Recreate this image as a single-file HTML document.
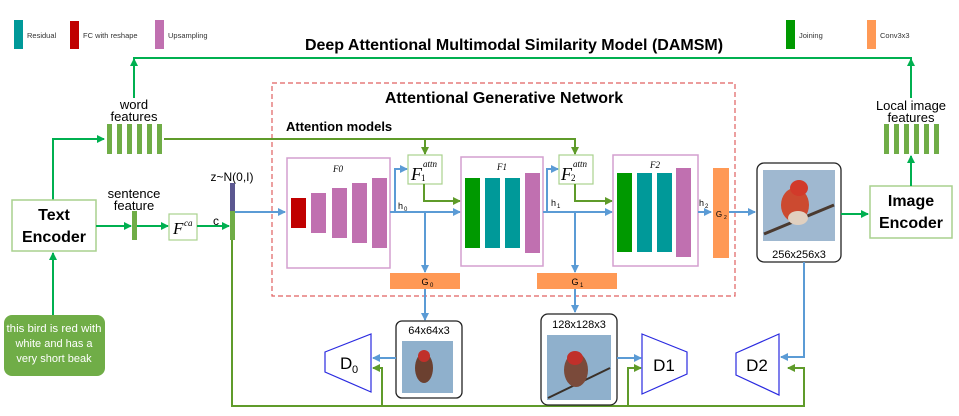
<!DOCTYPE html>
<html><head><meta charset="utf-8"><style>
html,body{margin:0;padding:0;background:#fff;}
svg{display:block;font-family:"Liberation Sans",sans-serif;}
</style></head><body>
<svg width="959" height="416" viewBox="0 0 959 416" xmlns="http://www.w3.org/2000/svg">
<defs>
<marker id="ag" markerWidth="8" markerHeight="8" refX="7" refY="4" orient="auto" markerUnits="userSpaceOnUse"><path d="M0,0 L8,4 L0,8 z" fill="#00b050"/></marker>
<marker id="ao" markerWidth="8" markerHeight="8" refX="7" refY="4" orient="auto" markerUnits="userSpaceOnUse"><path d="M0,0 L8,4 L0,8 z" fill="#5f9b2a"/></marker>
<marker id="ab" markerWidth="8" markerHeight="8" refX="7" refY="4" orient="auto" markerUnits="userSpaceOnUse"><path d="M0,0 L8,4 L0,8 z" fill="#5b9bd5"/></marker>
</defs>

<!-- legend -->
<rect x="14" y="20" width="9" height="29" fill="#009999"/><text x="27" y="38" font-size="7.5" fill="#333">Residual</text>
<rect x="70" y="21" width="9" height="28" fill="#c00000"/><text x="83" y="38" font-size="7.5" fill="#333">FC with reshape</text>
<rect x="155" y="20" width="9" height="29" fill="#c070b0"/><text x="168" y="38" font-size="7.5" fill="#333">Upsampling</text>
<rect x="786" y="20" width="9" height="29" fill="#009900"/><text x="799" y="38" font-size="7.5" fill="#333">Joining</text>
<rect x="867" y="20" width="9" height="29" fill="#ff9955"/><text x="880" y="38" font-size="7.5" fill="#333">Conv3x3</text>

<text x="514" y="50" font-size="16" font-weight="bold" text-anchor="middle">Deep Attentional Multimodal Similarity Model (DAMSM)</text>

<!-- DAMSM top line -->
<polyline points="134,98 134,58 911,58 911,98" fill="none" stroke="#00b050" stroke-width="2"/>
<path d="M130,66 L134,58 L138,66 z" fill="#00b050"/>
<path d="M907,66 L911,58 L915,66 z" fill="#00b050"/>

<!-- dashed box -->
<rect x="272" y="83" width="463" height="213" fill="none" stroke="#e06060" stroke-width="1.2" stroke-dasharray="5,3"/>
<text x="504" y="103" font-size="16" font-weight="bold" text-anchor="middle">Attentional Generative Network</text>
<text x="286" y="131" font-size="13" font-weight="bold">Attention models</text>

<!-- word features -->
<text x="134" y="109" font-size="13" text-anchor="middle">word</text>
<text x="134" y="121" font-size="13" text-anchor="middle">features</text>
<g fill="#70ad47">
<rect x="107" y="124" width="5" height="30"/><rect x="117" y="124" width="5" height="30"/><rect x="127" y="124" width="5" height="30"/><rect x="137" y="124" width="5" height="30"/><rect x="147" y="124" width="5" height="30"/><rect x="157" y="124" width="5" height="30"/>
</g>
<polyline points="53,200 53,139 104,139" fill="none" stroke="#00b050" stroke-width="2" marker-end="url(#ag)"/>
<polyline points="164,139 575,139 575,154" fill="none" stroke="#5f9b2a" stroke-width="2" marker-end="url(#ao)"/>
<line x1="425" y1="139" x2="425" y2="154" stroke="#5f9b2a" stroke-width="2" marker-end="url(#ao)"/>

<!-- text encoder -->
<rect x="12" y="200" width="84" height="51" fill="#fff" stroke="#a9d18e" stroke-width="1.5"/>
<text x="54" y="220" font-size="16" font-weight="bold" text-anchor="middle">Text</text>
<text x="54" y="242" font-size="16" font-weight="bold" text-anchor="middle">Encoder</text>

<text x="134" y="198" font-size="13" text-anchor="middle">sentence</text>
<text x="134" y="210" font-size="13" text-anchor="middle">feature</text>
<rect x="132" y="211" width="5" height="29" fill="#70ad47"/>
<line x1="96" y1="226" x2="131" y2="226" stroke="#00b050" stroke-width="2" marker-end="url(#ag)"/>
<line x1="137" y1="226" x2="168" y2="226" stroke="#00b050" stroke-width="2" marker-end="url(#ag)"/>
<rect x="169" y="214" width="28" height="26" fill="#fff" stroke="#a9d18e" stroke-width="1.2"/>
<text x="173" y="234" font-size="17" font-style="italic" font-family="Liberation Serif,serif">F</text><text x="184" y="226" font-size="9" font-style="italic" font-family="Liberation Serif,serif">ca</text>
<text x="213" y="225" font-size="12">c</text>
<line x1="197" y1="226" x2="229" y2="226" stroke="#00b050" stroke-width="2" marker-end="url(#ag)"/>
<text x="232" y="181" font-size="12" text-anchor="middle">z~N(0,I)</text>
<rect x="230" y="183" width="5" height="28" fill="#5b5790"/>
<rect x="230" y="211" width="5" height="29" fill="#70ad47"/>
<line x1="235" y1="212" x2="285" y2="212" stroke="#5b9bd5" stroke-width="2" marker-end="url(#ab)"/>

<!-- bottom green -->
<polyline points="232,240 232,406 804,406 804,368 788,368" fill="none" stroke="#5f9b2a" stroke-width="2" marker-end="url(#ao)"/>
<polyline points="382,406 382,368 373,368" fill="none" stroke="#5f9b2a" stroke-width="2" marker-end="url(#ao)"/>
<polyline points="628,406 628,368 641,368" fill="none" stroke="#5f9b2a" stroke-width="2" marker-end="url(#ao)"/>

<!-- F0 -->
<rect x="287" y="158" width="103" height="110" fill="#fff" stroke="#d49fcf" stroke-width="1.5"/>
<text x="338" y="172" font-size="9" font-style="italic" font-family="Liberation Serif,serif" text-anchor="middle">F0</text>
<rect x="291" y="198" width="15" height="30" fill="#c00000"/>
<g fill="#c070b0"><rect x="311" y="193" width="15" height="40"/><rect x="332" y="188" width="15" height="50"/><rect x="352" y="183" width="15" height="60"/><rect x="372" y="178" width="15" height="70"/></g>

<text x="398" y="209" font-size="9">h</text><text x="404" y="211" font-size="6">0</text>
<line x1="390" y1="212" x2="460" y2="212" stroke="#5b9bd5" stroke-width="2" marker-end="url(#ab)"/>
<polyline points="395,212 395,169 407,169" fill="none" stroke="#5b9bd5" stroke-width="2" marker-end="url(#ab)"/>
<rect x="408" y="155" width="34" height="29" fill="#fff" stroke="#a9d18e" stroke-width="1.2"/>
<text x="411" y="180" font-size="18" font-style="italic" font-family="Liberation Serif,serif">F</text><text x="421" y="181" font-size="9" font-family="Liberation Serif,serif">1</text><text x="423" y="167" font-size="9" font-style="italic" font-family="Liberation Serif,serif">attn</text>
<polyline points="424,184 424,201 460,201" fill="none" stroke="#5f9b2a" stroke-width="2" marker-end="url(#ao)"/>
<line x1="425" y1="212" x2="425" y2="272" stroke="#5b9bd5" stroke-width="2" marker-end="url(#ab)"/>
<rect x="390" y="273" width="70" height="16" fill="#ff9955"/>
<text x="425" y="285" font-size="9" text-anchor="middle">G</text><text x="430" y="287" font-size="6">0</text>
<line x1="425" y1="289" x2="425" y2="320" stroke="#5b9bd5" stroke-width="2" marker-end="url(#ab)"/>

<!-- F1 -->
<rect x="461" y="157" width="82" height="109" fill="#fff" stroke="#d49fcf" stroke-width="1.5"/>
<text x="502" y="170" font-size="9" font-style="italic" font-family="Liberation Serif,serif" text-anchor="middle">F1</text>
<rect x="465" y="178" width="15" height="70" fill="#009900"/>
<rect x="485" y="178" width="15" height="70" fill="#009999"/><rect x="505" y="178" width="15" height="70" fill="#009999"/>
<rect x="525" y="173" width="15" height="80" fill="#c070b0"/>

<text x="551" y="206" font-size="9">h</text><text x="557" y="208" font-size="6">1</text>
<line x1="543" y1="212" x2="612" y2="212" stroke="#5b9bd5" stroke-width="2" marker-end="url(#ab)"/>
<polyline points="547,212 547,169 558,169" fill="none" stroke="#5b9bd5" stroke-width="2" marker-end="url(#ab)"/>
<rect x="559" y="155" width="34" height="29" fill="#fff" stroke="#a9d18e" stroke-width="1.2"/>
<text x="561" y="180" font-size="18" font-style="italic" font-family="Liberation Serif,serif">F</text><text x="571" y="181" font-size="9" font-family="Liberation Serif,serif">2</text><text x="573" y="167" font-size="9" font-style="italic" font-family="Liberation Serif,serif">attn</text>
<polyline points="575,184 575,201 612,201" fill="none" stroke="#5f9b2a" stroke-width="2" marker-end="url(#ao)"/>
<line x1="575" y1="212" x2="575" y2="272" stroke="#5b9bd5" stroke-width="2" marker-end="url(#ab)"/>
<rect x="537" y="273" width="80" height="16" fill="#ff9955"/>
<text x="575" y="285" font-size="9" text-anchor="middle">G</text><text x="580" y="287" font-size="6">1</text>
<line x1="575" y1="289" x2="575" y2="312" stroke="#5b9bd5" stroke-width="2" marker-end="url(#ab)"/>

<!-- F2 -->
<rect x="613" y="155" width="85" height="111" fill="#fff" stroke="#d49fcf" stroke-width="1.5"/>
<text x="655" y="168" font-size="9" font-style="italic" font-family="Liberation Serif,serif" text-anchor="middle">F2</text>
<rect x="617" y="173" width="15" height="79" fill="#009900"/>
<rect x="637" y="173" width="15" height="79" fill="#009999"/><rect x="657" y="173" width="15" height="79" fill="#009999"/>
<rect x="676" y="168" width="15" height="89" fill="#c070b0"/>
<text x="699" y="206" font-size="9">h</text><text x="705" y="208" font-size="6">2</text>
<line x1="698" y1="212" x2="711" y2="212" stroke="#5b9bd5" stroke-width="2" marker-end="url(#ab)"/>
<rect x="713" y="168" width="16" height="90" fill="#ff9955"/>
<text x="719" y="217" font-size="8" text-anchor="middle">G</text><text x="724" y="219" font-size="5">2</text>
<line x1="729" y1="212" x2="755" y2="212" stroke="#5b9bd5" stroke-width="2" marker-end="url(#ab)"/>

<!-- 256 image -->
<rect x="757" y="163" width="84" height="99" rx="7" fill="#fff" stroke="#222" stroke-width="1.3"/>
<rect x="763" y="170" width="72" height="71" fill="#9fb8d0"/>
<path d="M764,234 L834,205" stroke="#4a3a30" stroke-width="3"/>
<ellipse cx="795" cy="205" rx="14" ry="17" fill="#cc4a30"/>
<ellipse cx="799" cy="188" rx="9" ry="8" fill="#d23a2a"/>
<ellipse cx="798" cy="218" rx="10" ry="7" fill="#e0d0c0"/>
<text x="799" y="258" font-size="11" text-anchor="middle">256x256x3</text>

<line x1="841" y1="214" x2="868" y2="214" stroke="#00b050" stroke-width="2" marker-end="url(#ag)"/>
<rect x="870" y="186" width="82" height="52" fill="#fff" stroke="#a9d18e" stroke-width="1.5"/>
<text x="911" y="206" font-size="16" font-weight="bold" text-anchor="middle">Image</text>
<text x="911" y="228" font-size="16" font-weight="bold" text-anchor="middle">Encoder</text>
<line x1="911" y1="186" x2="911" y2="156" stroke="#00b050" stroke-width="2" marker-end="url(#ag)"/>
<text x="911" y="110" font-size="13" text-anchor="middle">Local image</text>
<text x="911" y="122" font-size="13" text-anchor="middle">features</text>
<g fill="#70ad47">
<rect x="884" y="124" width="5" height="30"/><rect x="894" y="124" width="5" height="30"/><rect x="904" y="124" width="5" height="30"/><rect x="914" y="124" width="5" height="30"/><rect x="924" y="124" width="5" height="30"/><rect x="934" y="124" width="5" height="30"/>
</g>
<polyline points="804,262 804,357 781,357" fill="none" stroke="#5b9bd5" stroke-width="2" marker-end="url(#ab)"/>

<!-- text bubble -->
<line x1="53" y1="315" x2="53" y2="253" stroke="#00b050" stroke-width="2" marker-end="url(#ag)"/>
<rect x="4" y="315" width="101" height="61" rx="8" fill="#70ad47"/>
<text x="54" y="332" font-size="11" fill="#fff" text-anchor="middle" textLength="95" lengthAdjust="spacingAndGlyphs">this bird is red with</text>
<text x="54" y="347" font-size="11" fill="#fff" text-anchor="middle">white and has a</text>
<text x="54" y="362" font-size="11" fill="#fff" text-anchor="middle">very short beak</text>

<!-- 64 image -->
<rect x="396" y="321" width="66" height="77" rx="6" fill="#fff" stroke="#222" stroke-width="1.3"/>
<text x="429" y="334" font-size="11" text-anchor="middle">64x64x3</text>
<rect x="402" y="341" width="51" height="52" fill="#8fb0cc"/>
<ellipse cx="424" cy="368" rx="9" ry="15" fill="#6b4030"/>
<ellipse cx="424" cy="356" rx="6" ry="6" fill="#c0302a"/>
<line x1="396" y1="358" x2="373" y2="358" stroke="#5b9bd5" stroke-width="2" marker-end="url(#ab)"/>

<!-- 128 image -->
<rect x="541" y="314" width="76" height="91" rx="7" fill="#fff" stroke="#222" stroke-width="1.3"/>
<text x="579" y="328" font-size="11" text-anchor="middle">128x128x3</text>
<rect x="547" y="335" width="64" height="65" fill="#8fb0cc"/>
<path d="M548,398 L610,368" stroke="#3a3028" stroke-width="2"/>
<ellipse cx="576" cy="370" rx="12" ry="17" fill="#7a4a3a"/>
<ellipse cx="575" cy="358" rx="8" ry="7" fill="#c0302a"/>
<line x1="617" y1="358" x2="641" y2="358" stroke="#5b9bd5" stroke-width="2" marker-end="url(#ab)"/>

<!-- discriminators -->
<polygon points="325,352 371,334 371,392 325,372" fill="#fff" stroke="#2a2ae0" stroke-width="1.2"/>
<text x="340" y="369" font-size="17">D</text><text x="352" y="373" font-size="11">0</text>
<polygon points="642,334 687,352 687,374 642,394" fill="#fff" stroke="#2a2ae0" stroke-width="1.2"/>
<text x="664" y="371" font-size="17" text-anchor="middle">D1</text>
<polygon points="736,353 779,334 779,395 736,375" fill="#fff" stroke="#2a2ae0" stroke-width="1.2"/>
<text x="757" y="371" font-size="17" text-anchor="middle">D2</text>
</svg>
</body></html>
